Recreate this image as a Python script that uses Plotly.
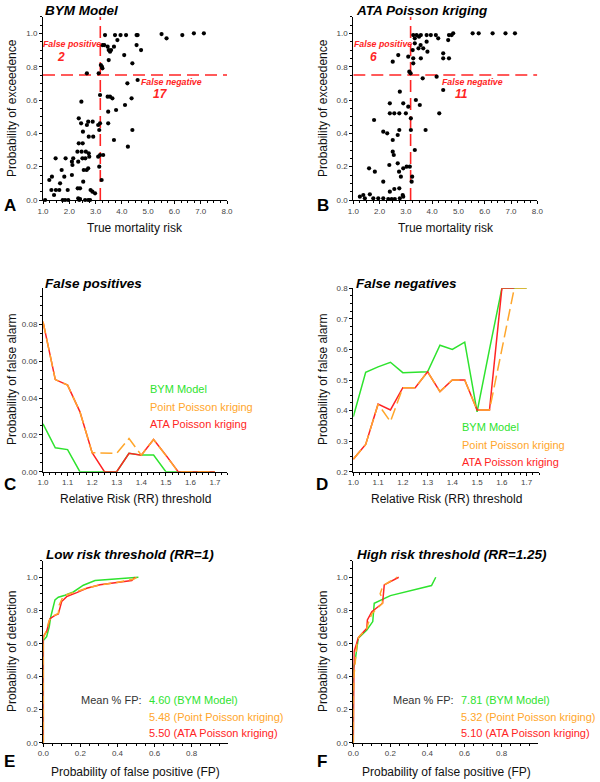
import plotly.graph_objects as go

# ---------------- data ----------------
bym_risk = [3.36,3.74,3.95,4.16,4.56,4.60,3.83,3.26,3.33,3.46,3.70,4.56,
            4.73,3.50,3.59,3.55,4.09,3.50,4.40,3.20,3.24,3.26,2.67,3.12,
            4.60,4.21,3.17,3.46,3.55,3.64,4.37,2.46,4.12,3.78,3.48,2.36,
            2.72,2.89,2.45,2.67,3.10,3.17,3.48,2.52,3.14,2.74,2.91,2.36,
            2.51,3.70,4.40,4.23,2.47,2.63,2.31,2.74,2.61,2.76,3.10,3.17,
            3.29,2.10,2.34,1.48,1.86,2.15,2.50,1.71,2.12,2.55,2.66,2.72,
            3.14,1.34,1.24,1.81,2.10,3.23,2.53,1.65,2.32,2.41,2.81,2.88,
            1.32,1.49,1.62,1.94,1.42,2.98,2.34,2.41,1.08,1.75,1.84,1.96,
            2.38,2.60,2.72,2.79,5.51,5.70,6.30,6.74,7.12]
bym_prob = [0.99,0.99,0.99,0.99,0.99,0.99,0.96,0.93,0.93,0.92,0.92,0.93,
            0.90,0.90,0.90,0.89,0.87,0.84,0.82,0.81,0.80,0.79,0.76,0.76,
            0.72,0.70,0.63,0.62,0.62,0.61,0.61,0.59,0.57,0.54,0.53,0.49,
            0.47,0.47,0.46,0.45,0.45,0.46,0.46,0.41,0.42,0.38,0.38,0.34,
            0.34,0.36,0.42,0.32,0.29,0.29,0.29,0.28,0.25,0.26,0.26,0.27,
            0.27,0.23,0.23,0.25,0.25,0.25,0.25,0.18,0.21,0.18,0.18,0.19,
            0.20,0.14,0.12,0.14,0.15,0.12,0.11,0.10,0.07,0.07,0.06,0.05,
            0.06,0.06,0.06,0.06,0.03,0.04,0.01,0.006,0.0,0.0,0.0,0.0,
            0.0,0.0,0.0,0.0,0.996,0.97,0.99,1.0,1.0]

ata_risk = [3.28,3.41,3.50,3.57,3.79,3.95,4.14,4.23,4.64,4.74,3.34,3.79,
            4.61,3.34,3.56,3.66,3.82,3.48,3.26,2.71,3.09,3.28,3.57,4.42,
            4.42,4.64,2.50,3.28,3.13,3.18,3.64,4.17,4.42,2.77,2.39,2.90,
            3.38,3.53,3.09,2.56,2.39,2.75,3.00,4.27,1.79,3.19,2.14,2.29,
            2.75,3.19,3.75,2.50,2.69,2.50,2.54,3.34,2.37,2.69,2.90,2.74,
            2.81,3.03,3.15,1.60,1.82,2.14,3.24,3.22,2.75,2.56,2.39,2.88,
            1.25,1.38,1.63,1.44,1.76,1.95,2.14,2.33,2.46,2.58,2.77,2.90,
            4.80,5.54,5.77,6.30,6.79,7.15]
ata_prob = [0.99,0.99,0.98,0.99,0.99,0.99,0.99,0.97,0.99,0.99,0.97,0.95,
            0.96,0.94,0.93,0.91,0.89,0.91,0.90,0.87,0.86,0.85,0.85,0.88,
            0.85,0.85,0.83,0.82,0.77,0.76,0.73,0.74,0.66,0.65,0.58,0.58,
            0.60,0.57,0.56,0.52,0.52,0.52,0.52,0.52,0.48,0.49,0.41,0.40,
            0.42,0.42,0.42,0.36,0.39,0.29,0.27,0.30,0.21,0.22,0.19,0.17,
            0.14,0.20,0.20,0.19,0.17,0.11,0.14,0.11,0.07,0.066,0.05,0.03,
            0.02,0.03,0.034,0.01,0.01,0.01,0.01,0.006,0.006,0.006,0.01,0.02,
            1.0,1.0,1.0,1.0,1.0,1.0]

rr_threshold = [1.0,1.05,1.1,1.15,1.2,1.25,1.3,1.35,1.4,1.45,1.5,1.55,1.6,1.65,1.7]
fp_bym   = [0.026,0.013,0.012,0.0,0.0,0.0,0.0,0.010,0.009,0.009,0.0,0.0,0.0,0.0,0.0]
fp_point = [0.0814,0.050,0.047,0.0326,0.0103,0.010,0.010,0.018,0.009,0.0175,0.009,0.0,0.0,0.0,0.0]
fp_ata   = [0.0814,0.050,0.047,0.0326,0.0103,0.0,0.0,0.010,0.009,0.0175,0.009,0.0,0.0,0.0,0.0]

fn_bym   = [0.38,0.525,0.543,0.558,0.524,0.525,0.527,0.614,0.600,0.624,0.396,0.600,0.80,0.80,0.80]
fn_point = [0.241,0.289,0.421,0.364,0.475,0.475,0.527,0.462,0.500,0.500,0.402,0.402,0.600,0.80,0.80]
fn_ata   = [0.241,0.289,0.421,0.402,0.475,0.475,0.527,0.462,0.500,0.500,0.402,0.402,0.80,0.80]

# ROC, low threshold (RR=1)
e_bym_fp   = [0.0,0.0,0.018,0.032,0.040,0.050,0.063,0.081,0.117,0.162,0.216,0.279,0.378,0.513]
e_bym_pd   = [0.0,0.617,0.641,0.700,0.760,0.810,0.863,0.879,0.891,0.911,0.952,0.980,0.990,1.0]
e_point_fp = [0.0,0.0,0.014,0.032,0.060,0.081,0.086,0.108,0.162,0.234,0.306,0.396,0.486,0.507]
e_point_pd = [0.0,0.630,0.670,0.740,0.770,0.782,0.833,0.887,0.907,0.933,0.954,0.968,0.988,1.0]
e_ata_fp   = [0.0,0.0,0.018,0.027,0.036,0.063,0.081,0.099,0.126,0.180,0.234,0.306,0.396,0.477,0.495]
e_ata_pd   = [0.0,0.645,0.671,0.720,0.750,0.770,0.778,0.853,0.883,0.907,0.933,0.954,0.968,0.980,1.0]

# ROC, high threshold (RR=1.25)
f_bym_fp   = [0.0,0.0,0.009,0.018,0.027,0.073,0.087,0.105,0.113,0.160,0.200,0.422,0.445]
f_bym_pd   = [0.0,0.45,0.49,0.57,0.631,0.681,0.706,0.732,0.843,0.867,0.889,0.950,1.0]
f_point_fp = [0.0,0.0,0.005,0.010,0.020,0.030,0.073,0.080,0.100,0.158,0.155,0.145,0.160,0.236]
f_point_pd = [0.0,0.30,0.42,0.50,0.60,0.64,0.69,0.72,0.78,0.843,0.875,0.90,0.95,1.0]
f_ata_fp   = [0.0,0.0,0.004,0.018,0.027,0.073,0.076,0.100,0.158,0.167,0.245]
f_ata_pd   = [0.0,0.50,0.55,0.60,0.635,0.692,0.742,0.792,0.843,0.954,1.0]

thr_risk = 3.18
thr_prob = 0.75

GREEN = "#2ee32e"
ORANGE = "#ffa62b"
RED = "#ff2424"
FONT = "Liberation Sans, Arial, Helvetica, sans-serif"

W, H = 600, 782
def X(px): return px / W
def Y(py): return 1 - py / H

fig = go.Figure()

# ---------- panels A & B (scatter) ----------
for i, (rx, ry, xa, ya) in enumerate([(bym_risk, bym_prob, "x", "y"),
                                      (ata_risk, ata_prob, "x2", "y2")]):
    fig.add_trace(go.Scatter(x=[thr_risk, thr_risk], y=[0, 1.1], mode="lines",
                             line=dict(color=RED, width=1.6, dash="12px,6px"),
                             xaxis=xa, yaxis=ya, showlegend=False, hoverinfo="skip"))
    fig.add_trace(go.Scatter(x=[1, 8], y=[thr_prob, thr_prob], mode="lines",
                             line=dict(color=RED, width=1.6, dash="12px,6px"),
                             xaxis=xa, yaxis=ya, showlegend=False, hoverinfo="skip"))
    fig.add_trace(go.Scatter(x=rx, y=ry, mode="markers",
                             marker=dict(color="black", size=4.2),
                             xaxis=xa, yaxis=ya, showlegend=False, cliponaxis=False))

# ---------- panel C ----------
fig.add_trace(go.Scatter(x=rr_threshold, y=fp_bym, mode="lines", line=dict(color=GREEN, width=1.5),
                         xaxis="x3", yaxis="y3", showlegend=False, cliponaxis=False))
fig.add_trace(go.Scatter(x=rr_threshold, y=fp_ata, mode="lines", line=dict(color=RED, width=1.5),
                         xaxis="x3", yaxis="y3", showlegend=False, cliponaxis=False))
fig.add_trace(go.Scatter(x=rr_threshold, y=fp_point, mode="lines",
                         line=dict(color=ORANGE, width=1.5, dash="12px,5px"),
                         xaxis="x3", yaxis="y3", showlegend=False, cliponaxis=False))

# ---------- panel D ----------
fig.add_trace(go.Scatter(x=rr_threshold, y=fn_bym, mode="lines", line=dict(color=GREEN, width=1.5),
                         xaxis="x4", yaxis="y4", showlegend=False, cliponaxis=False))
fig.add_trace(go.Scatter(x=rr_threshold[:len(fn_ata)], y=fn_ata, mode="lines", line=dict(color=RED, width=1.5),
                         xaxis="x4", yaxis="y4", showlegend=False, cliponaxis=False))
fig.add_trace(go.Scatter(x=rr_threshold, y=fn_point, mode="lines",
                         line=dict(color=ORANGE, width=1.5, dash="12px,5px"),
                         xaxis="x4", yaxis="y4", showlegend=False, cliponaxis=False))

# ---------- panels E & F ----------
for (bx, by, px_, py_, ax_, ay_, xa, ya) in [
        (e_bym_fp, e_bym_pd, e_point_fp, e_point_pd, e_ata_fp, e_ata_pd, "x5", "y5"),
        (f_bym_fp, f_bym_pd, f_point_fp, f_point_pd, f_ata_fp, f_ata_pd, "x6", "y6")]:
    fig.add_trace(go.Scatter(x=bx, y=by, mode="lines", line=dict(color=GREEN, width=1.5),
                             xaxis=xa, yaxis=ya, showlegend=False, cliponaxis=False))
    fig.add_trace(go.Scatter(x=ax_, y=ay_, mode="lines", line=dict(color=RED, width=1.5),
                             xaxis=xa, yaxis=ya, showlegend=False, cliponaxis=False))
    fig.add_trace(go.Scatter(x=px_, y=py_, mode="lines",
                             line=dict(color=ORANGE, width=1.5, dash="8px,5px"),
                             xaxis=xa, yaxis=ya, showlegend=False, cliponaxis=False))

# ---------- axes ----------
def axis_common():
    return dict(showline=True, linecolor="black", linewidth=1, ticks="outside",
                ticklen=3, tickcolor="black", tickwidth=1, showgrid=False, zeroline=False,
                automargin=False,
                tickfont=dict(size=8, color="#444", family=FONT), fixedrange=True)

def xaxis(dom, rng, dtick, tick0, fmt, minor, anchor):
    d = axis_common()
    d.update(domain=[X(dom[0]), X(dom[1])], range=rng, tickmode="linear", dtick=dtick,
             tick0=tick0, tickformat=fmt, anchor=anchor,
             minor=dict(ticks="outside", ticklen=2, dtick=minor, tick0=tick0,
                        tickcolor="black", showgrid=False))
    return d

def yaxis(dom, rng, dtick, tick0, fmt, minor, anchor):
    d = axis_common()
    d.update(domain=[Y(dom[1]), Y(dom[0])], range=rng, tickmode="linear", dtick=dtick,
             tick0=tick0, tickformat=fmt, anchor=anchor,
             minor=dict(ticks="outside", ticklen=2, dtick=minor, tick0=tick0,
                        tickcolor="black", showgrid=False))
    return d

layout = dict(
    width=W, height=H, margin=dict(l=0, r=0, t=0, b=0, autoexpand=False),
    paper_bgcolor="white", plot_bgcolor="white", showlegend=False,
    font=dict(family=FONT),
    xaxis=xaxis((43, 227), [1, 8], 1, 1, ".1f", 0.25, "y"),
    yaxis=yaxis((16.7, 200), [0, 1.1], 0.2, 0, ".1f", 0.05, "x"),
    xaxis2=xaxis((353.3, 537.3), [1, 8], 1, 1, ".1f", 0.25, "y2"),
    yaxis2=yaxis((16.7, 200), [0, 1.1], 0.2, 0, ".1f", 0.05, "x2"),
    xaxis3=xaxis((43, 227.3), [1, 1.75], 0.1, 1, ".1f", 0.025, "y3"),
    yaxis3=yaxis((288, 471.7), [0, 0.0997], 0.02, 0, ".2f", 0.005, "x3"),
    xaxis4=xaxis((353.3, 539), [1, 1.75], 0.1, 1, ".1f", 0.025, "y4"),
    yaxis4=yaxis((288.3, 471.7), [0.2, 0.8001], 0.1, 0.2, ".1f", 0.025, "x4"),
    xaxis5=xaxis((43.3, 227.8), [0, 0.995], 0.2, 0, ".1f", 0.05, "y5"),
    yaxis5=yaxis((560.7, 742.7), [0, 1.1], 0.2, 0, ".1f", 0.05, "x5"),
    xaxis6=xaxis((353.3, 537.7), [0, 0.995], 0.2, 0, ".1f", 0.05, "y6"),
    yaxis6=yaxis((560.7, 742.7), [0, 1.1], 0.2, 0, ".1f", 0.05, "x6"),
)
fig.update_layout(**layout)

ann = []
def txt(px, py, s, size, color="black", xanchor="center", angle=0):
    ann.append(dict(x=X(px), y=Y(py), xref="paper", yref="paper", text=s, showarrow=False,
                    xanchor=xanchor, yanchor="middle", textangle=angle,
                    font=dict(size=size, color=color, family=FONT)))

# panel titles
txt(43, 11, "<b><i>BYM Model</i></b>", 13.5, xanchor="left")
txt(354, 11, "<b><i>ATA Poisson kriging</i></b>", 13.5, xanchor="left")
txt(43, 283, "<b><i>False positives</i></b>", 13.5, xanchor="left")
txt(354, 283, "<b><i>False negatives</i></b>", 13.5, xanchor="left")
txt(44, 554, "<b><i>Low risk threshold (RR=1)</i></b>", 13.5, xanchor="left")
txt(355, 554, "<b><i>High risk threshold (RR=1.25)</i></b>", 13.5, xanchor="left")

# panel letters
for px, py, s in [(10, 205, "A"), (323, 206, "B"), (10, 484, "C"), (322, 484, "D"),
                  (9, 761, "E"), (322, 761, "F")]:
    txt(px, py, "<b>" + s + "</b>", 17)

# axis titles
for cx in (135, 446):
    txt(cx, 228, "True mortality risk", 12, "#111")
    txt(cx, 499, "Relative Risk (RR) threshold", 12, "#111")
    txt(cx, 772, "Probability of false positive (FP)", 12, "#111")
for cx in (12, 323):
    txt(cx, 108, "Probability of exceedence", 12, "#111", angle=-90)
    txt(cx, 380, "Probability of false alarm", 12, "#111", angle=-90)
    txt(cx, 652, "Probability of detection", 12, "#111", angle=-90)

# legends C & D
for lx, ly in [(148, 389), (460, 427)]:
    txt(lx, ly, "BYM Model", 11, GREEN, xanchor="left")
    txt(lx, ly + 17.5, "Point Poisson kriging", 11, ORANGE, xanchor="left")
    txt(lx, ly + 35, "ATA Poisson kriging", 11, RED, xanchor="left")

# mean FP texts E & F
for mx, vals in [(144, ("4.60", "5.48", "5.50")), (456, ("7.81", "5.32", "5.10"))]:
    txt(mx, 700, "Mean % FP:", 11, "#333", xanchor="right")
    txt(mx + 3, 700, vals[0] + " (BYM Model)", 11, GREEN, xanchor="left")
    txt(mx + 3, 717, vals[1] + " (Point Poisson kriging)", 11, ORANGE, xanchor="left")
    txt(mx + 3, 733, vals[2] + " (ATA Poisson kriging)", 11, RED, xanchor="left")

# false positive / negative labels in A and B (data coordinates)
def dtxt(xa, ya, x, y, s, size):
    ann.append(dict(x=x, y=y, xref=xa, yref=ya, text=s, showarrow=False,
                    xanchor="center", yanchor="middle",
                    font=dict(size=size, color=RED, family=FONT)))

dtxt("x", "y", 2.1, 0.934, "<b><i>False positive</i></b>", 8.8)
dtxt("x", "y", 1.70, 0.858, "<b><i>2</i></b>", 12)
dtxt("x", "y", 5.89, 0.707, "<b><i>False negative</i></b>", 8.8)
dtxt("x", "y", 5.47, 0.639, "<b><i>17</i></b>", 12)
dtxt("x2", "y2", 2.14, 0.934, "<b><i>False positive</i></b>", 8.8)
dtxt("x2", "y2", 1.75, 0.858, "<b><i>6</i></b>", 12)
dtxt("x2", "y2", 5.54, 0.707, "<b><i>False negative</i></b>", 8.8)
dtxt("x2", "y2", 5.12, 0.639, "<b><i>11</i></b>", 12)

fig.update_layout(annotations=ann)
fig.write_html("out.html", config={"displayModeBar": False},
               post_script="document.body.style.margin='0';document.body.style.padding='0';")
